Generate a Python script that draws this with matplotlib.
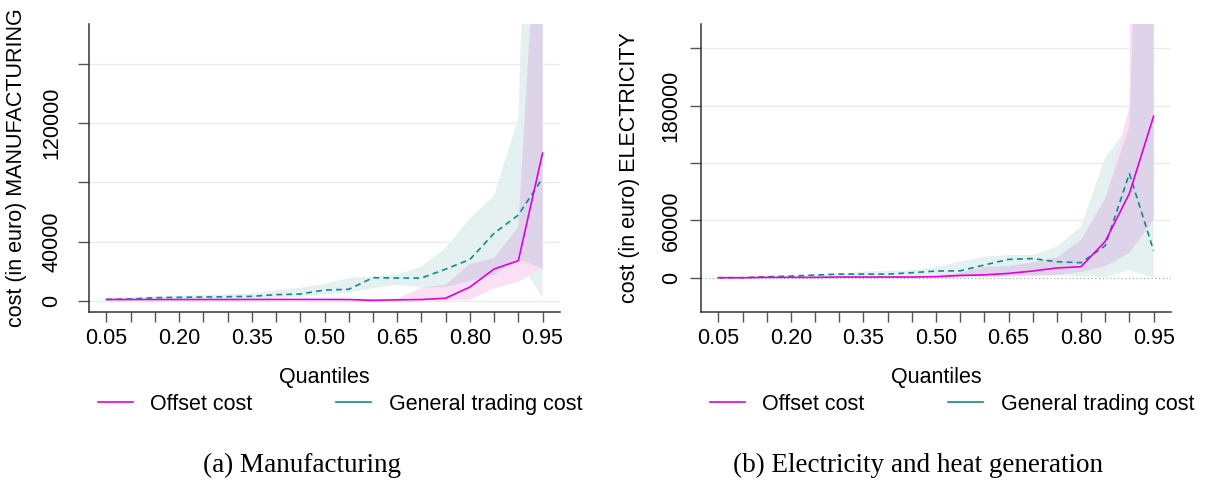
import numpy as np
from matplotlib import pyplot as plt
from matplotlib.lines import Line2D

# quantiles on the x axis
quantiles = [0.05, 0.10, 0.15, 0.20, 0.25, 0.30, 0.35, 0.40, 0.45, 0.50,
             0.55, 0.60, 0.65, 0.70, 0.75, 0.80, 0.85, 0.90, 0.95]

# (a) manufacturing
man_offset = [1000, 1000, 1000, 1000, 1000, 1000, 1050, 1050, 1050, 1050,
              1000, 450, 800, 1000, 1900, 9400, 21600, 27200, 99700]
man_offset_lo = [500, 500, 500, 500, 500, 500, 500, 500, 500, 500,
                 500, 300, 400, 500, 500, 700, 8500, 13000, 22000]
man_offset_hi = [1300, 1300, 1300, 1300, 1300, 1300, 1300, 1300, 1300, 1300,
                 1300, 1300, 1500, 9000, 11000, 25000, 29000, 50000, 330000]
man_trade = [1100, 1350, 2250, 2500, 2700, 2900, 3150, 4300, 4700, 7400,
             7900, 15700, 15500, 15500, 21500, 28000, 45700, 58000, 82800]
man_trade_lo = [500, 600, 800, 1000, 1200, 1400, 1700, 2200, 2800, 4500,
                5800, 8500, 11000, 9000, 9500, 13500, 17500, 28000, 1800]
man_trade_hi = [2250, 2700, 3150, 3600, 4000, 4500, 5200, 7000, 9000, 11500,
                15400, 16700, 17800, 23200, 35800, 55800, 71000, 123400, 620000]

# (b) electricity and heat generation
ele_offset = [0, 0, 350, 350, 350, 700, 700, 700, 700, 1000,
              2400, 3000, 4500, 7000, 10200, 11500, 38000, 88200, 169000]
ele_offset_lo = [0, 0, 0, 0, 0, 0, 100, 200, 300, 400,
                 500, 800, 1200, 1800, 2500, 6000, 12000, 26000, 61000]
ele_offset_hi = [0, 100, 500, 600, 700, 900, 1000, 1200, 1500, 2500,
                 5000, 11500, 12000, 16000, 21000, 39400, 83000, 179000, 3000000]
ele_trade = [0, 0, 1000, 1700, 2800, 3800, 3800, 3800, 5200, 7000,
             7200, 13300, 19200, 20000, 16700, 15700, 33500, 109000, 28300]
ele_trade_lo = [0, 0, 0, 200, 300, 400, 500, 600, 700, 800,
                900, 1200, 1800, 2500, 3000, 1500, 500, 8000, 300]
ele_trade_hi = [300, 600, 1200, 2000, 3000, 4500, 6300, 7000, 8000, 11000,
                17000, 22000, 23700, 23700, 32400, 53400, 126000, 158700, 900000]

man_yticks = [0, 40000, 80000, 120000, 160000]
man_ylabels = ["0", "40000", "", "120000", ""]
ele_yticks = [0, 60000, 120000, 180000, 240000]
ele_ylabels = ["0", "60000", "", "180000", ""]

teal = "#0E8C8C"
magenta = "#E000E0"
teal_band = "#E4F1F0"
pink_band = "#FBDFF5"
both_band = "#DED4EA"
sans = "Liberation Sans"
fs = 15.5

plt.rcParams["font.family"] = sans

fig = plt.figure(figsize=(12.06, 4.82), dpi=100)
axL = fig.add_axes([89 / 1206, 170 / 482, 471 / 1206, 288 / 482])
axR = fig.add_axes([701 / 1206, 170 / 482, 470 / 1206, 288 / 482])


def draw_panel(ax, off, off_lo, off_hi, tr, tr_lo, tr_hi, yticks, ylabels,
               ylim, ylabel, ypad, zero_dotted):
    q = np.array(quantiles)
    for t in yticks:
        if t == 0 and zero_dotted:
            ax.axhline(t, color="#AAAAAA", lw=0.9, ls=(0, (1, 2)), zorder=2)
        else:
            ax.axhline(t, color="#EBEBEB", lw=1.0, zorder=0)
    # bands, the overlap gets its own colour
    ax.fill_between(q, tr_lo, tr_hi, color=teal_band, lw=0, zorder=1)
    ax.fill_between(q, off_lo, off_hi, color=pink_band, lw=0, zorder=1)
    lo = np.maximum(tr_lo, off_lo)
    hi = np.minimum(tr_hi, off_hi)
    ax.fill_between(q, lo, hi, where=hi > lo, interpolate=True,
                    color=both_band, lw=0, zorder=1)
    ax.plot(q, tr, color=teal, lw=1.2, ls=(0, (3.5, 2.5)), zorder=3)
    ax.plot(q, off, color=magenta, lw=1.2, zorder=3)

    ax.set_xlim(0.05 - 0.036, 0.95 + 0.036)
    ax.set_ylim(*ylim)
    ax.set_xticks(q)
    ax.set_xticklabels(["%.2f" % v if i % 3 == 0 else "" for i, v in enumerate(quantiles)])
    ax.set_yticks(yticks)
    ax.set_yticklabels(ylabels)
    ax.tick_params(axis="x", length=7.5, width=1, color="#555555", pad=4,
                   labelsize=fs)
    ax.tick_params(axis="y", length=8, width=1, color="#555555", pad=ypad,
                   labelsize=fs, labelrotation=90)
    for lab in ax.get_yticklabels():
        lab.set_ha("center")
        lab.set_va("center")
    for s in ["top", "right"]:
        ax.spines[s].set_visible(False)
    for s in ["left", "bottom"]:
        ax.spines[s].set_color("#333333")
        ax.spines[s].set_linewidth(1.1)

    ax.set_xlabel("Quantiles", fontsize=fs, va="center")
    ax.xaxis.set_label_coords(0.5, -65 / 288)
    ax.set_ylabel(ylabel, fontsize=fs, va="center")


draw_panel(axL, man_offset, man_offset_lo, man_offset_hi,
           man_trade, man_trade_lo, man_trade_hi,
           man_yticks, man_ylabels, (-7400, 186800),
           "cost (in euro) MANUFACTURING", 19, False)
axL.yaxis.set_label_coords(-72 / 471, 0.5)

draw_panel(axR, ele_offset, ele_offset_lo, ele_offset_hi,
           ele_trade, ele_trade_lo, ele_trade_hi,
           ele_yticks, ele_ylabels, (-35900, 265600),
           "cost (in euro) ELECTRICITY", 13.5, True)
axR.yaxis.set_label_coords(-71 / 470, 0.5)

handles = [Line2D([], [], color=magenta, lw=1.2),
           Line2D([], [], color=teal, lw=1.2)]
names = ["Offset cost", "General trading cost"]
for cx in [340 / 1206, 952 / 1206]:
    fig.legend(handles, names, loc="center", bbox_to_anchor=(cx, 1 - 404.5 / 482),
               ncol=2, frameon=False, fontsize=fs, handlelength=1.63,
               handletextpad=0.8, columnspacing=3.9, borderpad=0)

fig.text(302 / 1206, 1 - 465 / 482, "(a) Manufacturing", ha="center", va="center",
         family="Liberation Serif", fontsize=19.5)
fig.text(918 / 1206, 1 - 465 / 482, "(b) Electricity and heat generation",
         ha="center", va="center", family="Liberation Serif", fontsize=19.5)

plt.savefig("out.png", dpi=100)
